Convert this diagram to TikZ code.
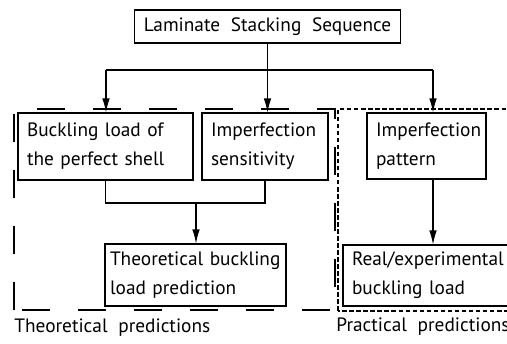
\documentclass[tikz,border=0pt]{standalone}
\usepackage{fontspec}
\setmainfont{PT Sans}
\usetikzlibrary{arrows.meta}
\newcommand\wordgap{\spaceskip=0.55em\relax}
\tikzset{
  txt/.style={font=\fontsize{11}{16.5}\selectfont\wordgap},
  box/.style={draw, semithick, txt, inner xsep=0.18cm, inner ysep=0pt, align=left},
  link/.style={semithick, -{Latex[length=2.8mm,width=1.5mm]}},
}
\begin{document}
\begin{tikzpicture}
  \useasboundingbox (0,0) rectangle (10.14,6.86);
  \clip (0,0) rectangle (10.14,6.86);
  % groups
  \draw[line width=1.2pt, dash pattern=on 0.56cm off 0.56cm] (0.28,0.66) rectangle (6.7,4.68);
  \draw[line width=1.1pt, dash pattern=on 2.6pt off 1.4pt] (6.76,0.64) rectangle (10.4,4.68);
  % boxes
  \node[box, align=center, minimum width=5.3cm, minimum height=0.66cm] (lss) at (5.35,6.33) {Laminate Stacking Sequence};
  \node[box, text width=3.14cm, minimum height=1.34cm] (buck) at (2.11,3.93) {Buckling load of\\the perfect shell};
  \node[box, text width=2.16cm, minimum height=1.34cm] (sens) at (5.30,3.93) {Imperfection\\sensitivity};
  \node[box, text width=2.02cm, minimum height=1.32cm] (pat) at (8.53,3.94) {Imperfection\\pattern};
  \node[box, inner xsep=0.1cm, text width=3.42cm, minimum height=1.24cm] (theo) at (3.91,1.36) {Theoretical buckling\\load prediction};
  \node[box, text width=3.02cm, minimum height=1.22cm] (real) at (8.55,1.35) {Real/experimental\\buckling load};
  \node[txt, anchor=west, inner sep=0pt] (tp) at (0.28,0.31) {Theoretical predictions};
  \node[txt, anchor=west, inner sep=0pt] (pp) at (6.72,0.33) {Practical predictions};
  % connectors
  \coordinate (bl) at (2.12,5.46);
  \coordinate (br) at (8.66,5.46);
  \coordinate (jn) at (3.92,2.8);
  \draw[semithick] (lss.south) -- (lss.south |- bl);
  \draw[semithick] (bl) -- (br);
  \draw[link] (bl) -- (bl |- buck.north);
  \draw[link] (lss.south |- bl) -- (lss.south |- sens.north);
  \draw[link] (br) -- (br |- pat.north);
  \draw[semithick] (buck.south) -- (buck.south |- jn) -- (jn -| sens.south) -- (sens.south);
  \draw[link] (jn) -- (jn |- theo.north);
  \draw[link] (br |- pat.south) -- (br |- real.north);
\end{tikzpicture}
\end{document}
